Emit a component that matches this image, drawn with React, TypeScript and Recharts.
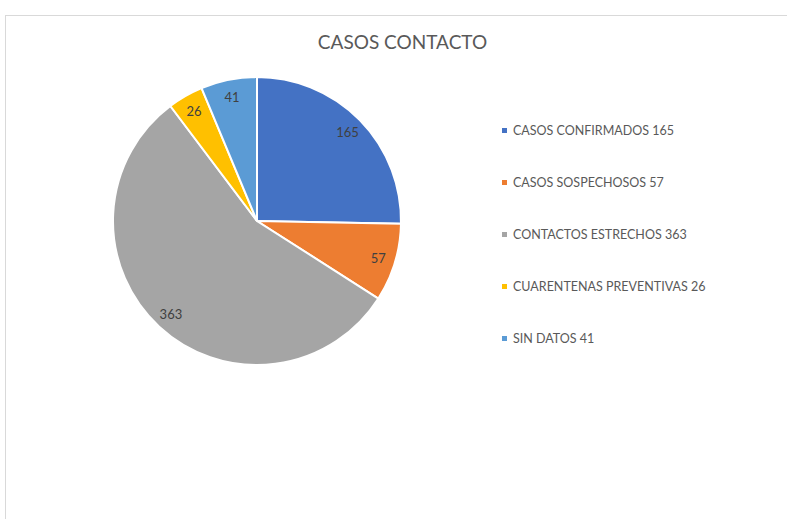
import { PieChart, Pie, Cell, Legend } from "recharts";

const categories = [
  "CASOS CONFIRMADOS",
  "CASOS SOSPECHOSOS",
  "CONTACTOS ESTRECHOS",
  "CUARENTENAS PREVENTIVAS",
  "SIN DATOS",
];
const values = [165, 57, 363, 26, 41];
const colors = ["#4472C4", "#ED7D31", "#A5A5A5", "#FFC000", "#5B9BD5"];

const chartData = categories.map((name, i) => ({ name, value: values[i] }));

const FONT = "Lato, 'Noto Sans', sans-serif";
const RADIAN = Math.PI / 180;

// Value labels sit inside the slice, close to the rim (Excel "best fit")
const renderLabel = (props: any) => {
  const { cx, cy, midAngle, outerRadius, value } = props;
  const r = outerRadius * 0.88;
  const x = cx + r * Math.cos(-midAngle * RADIAN);
  const y = cy + r * Math.sin(-midAngle * RADIAN);
  return (
    <text
      x={x}
      y={y}
      fill="#404040"
      fontSize={13}
      fontFamily={FONT}
      textAnchor="middle"
      dominantBaseline="central"
    >
      {value}
    </text>
  );
};

const renderLegend = () => (
  <div style={{ fontFamily: FONT, fontSize: 12.5, color: "#595959" }}>
    {chartData.map((d, i) => (
      <div key={d.name} style={{ display: "flex", alignItems: "center", height: 52 }}>
        <span
          style={{
            display: "inline-block",
            width: 5,
            height: 5,
            background: colors[i],
            marginRight: 6,
          }}
        />
        <span>
          {d.name} {d.value}
        </span>
      </div>
    ))}
  </div>
);

export default function App() {
  return (
    <div
      style={{
        position: "absolute",
        left: 0,
        top: 0,
        width: 787,
        height: 519,
        overflow: "hidden",
        background: "#fff",
      }}
    >
      {/* chart frame */}
      <div
        style={{
          position: "absolute",
          left: 5,
          top: 15,
          width: 800,
          height: 520,
          border: "1.5px solid #d9d9d9",
        }}
      />
      <div
        style={{
          position: "absolute",
          left: 0,
          top: 30,
          width: 805,
          textAlign: "center",
          fontFamily: FONT,
          fontSize: 19,
          color: "#595959",
        }}
      >
        CASOS CONTACTO
      </div>
      <div style={{ position: "absolute", left: 0, top: 0 }}>
        <PieChart width={787} height={519} margin={{ top: 0, right: 0, bottom: 0, left: 0 }}>
          <Pie
            data={chartData}
            dataKey="value"
            nameKey="name"
            cx={257}
            cy={221}
            outerRadius={144}
            startAngle={90}
            endAngle={-270}
            stroke="#ffffff"
            strokeWidth={2}
            label={renderLabel}
            labelLine={false}
            isAnimationActive={false}
          >
            {chartData.map((d, i) => (
              <Cell key={d.name} fill={colors[i]} />
            ))}
          </Pie>
          <Legend
            layout="vertical"
            align="right"
            verticalAlign="top"
            content={renderLegend}
            wrapperStyle={{ left: 502, top: 104, width: 280 }}
          />
        </PieChart>
      </div>
    </div>
  );
}
